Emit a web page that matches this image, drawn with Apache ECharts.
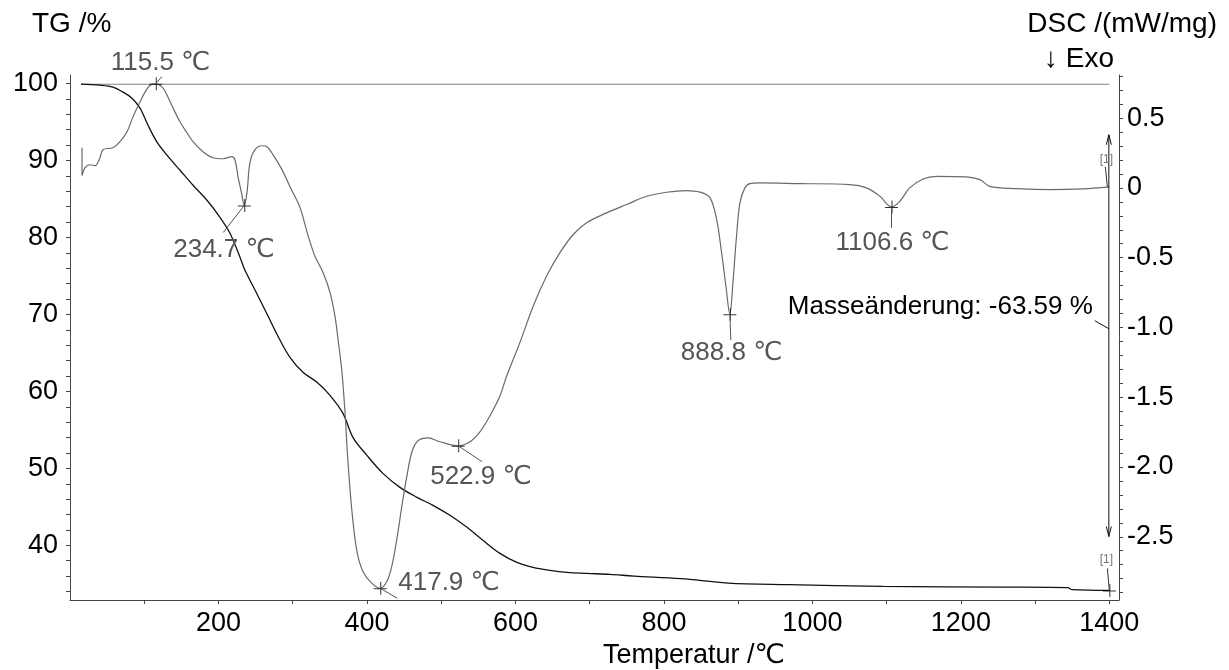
<!DOCTYPE html>
<html><head><meta charset="utf-8">
<script src="https://cdn.jsdelivr.net/npm/echarts@6/dist/echarts.min.js"></script>
<style>html,body{margin:0;padding:0;background:#fff}#c{width:1229px;height:670px}</style>
</head><body><div id="c"></div>
<script>
// ---- data ----
const tgT = [14.8, 40.4, 57.9, 71.4, 83.5, 94.3, 105.1, 117.2, 130.6, 148.1, 165.7, 184.5, 202.0, 215.5, 229.0, 235.7, 249.2, 266.7, 282.8, 296.3, 313.8, 332.7, 350.2, 367.7, 381.1, 400.0, 421.5, 444.4, 467.3, 488.9, 511.8, 534.7, 556.2, 579.1, 602.0, 623.6, 646.5, 669.4, 696.3, 727.3, 759.6, 822.9, 886.2, 967.0, 1095.0, 1259.0, 1344.0, 1350.0, 1400.0];
const tgV = [99.91, 99.78, 99.52, 98.87, 98.09, 96.79, 94.58, 92.37, 90.68, 88.73, 86.78, 84.83, 82.62, 80.54, 77.42, 75.73, 73.17, 69.79, 66.67, 64.43, 62.48, 61.18, 59.49, 57.15, 54.03, 51.69, 49.35, 47.53, 46.24, 45.20, 43.90, 42.34, 40.65, 38.96, 37.79, 37.14, 36.75, 36.49, 36.36, 36.23, 36.01, 35.67, 35.10, 34.89, 34.67, 34.58, 34.50, 34.24, 34.15];

const dscT = [16.2, 16.2, 20.2, 26.9, 33.7, 40.4, 44.4, 57.9, 67.3, 76.8, 84.8, 94.3, 103.7, 110.0, 115.5, 123.9, 130.6, 138.7, 148.1, 157.6, 165.7, 179.1, 192.6, 206.1, 218.2, 222.2, 226.3, 231.0, 234.7, 238.4, 242.4, 249.2, 258.6, 265.3, 273.4, 285.5, 296.3, 309.8, 320.0, 330.0, 340.7, 350.2, 356.9, 361.0, 366.3, 370.4, 374.4, 379.8, 386.5, 394.6, 406.7, 417.9, 426.9, 433.7, 440.4, 447.1, 453.9, 460.6, 468.7, 482.2, 498.3, 522.9, 538.7, 552.2, 565.7, 579.1, 588.1, 606.1, 624.0, 642.0, 660.0, 677.9, 695.9, 722.8, 749.8, 776.7, 803.6, 830.5, 848.5, 862.0, 871.0, 877.7, 883.5, 888.8, 893.3, 897.8, 902.4, 909.1, 915.8, 929.3, 983.0, 1050.5, 1073.0, 1091.0, 1106.6, 1117.8, 1131.0, 1149.0, 1167.0, 1207.6, 1225.6, 1239.0, 1275.0, 1320.0, 1364.7, 1400.0];
const dscV = [0.288, 0.088, 0.145, 0.166, 0.159, 0.216, 0.274, 0.288, 0.331, 0.402, 0.509, 0.616, 0.709, 0.742, 0.746, 0.724, 0.666, 0.574, 0.474, 0.395, 0.331, 0.259, 0.216, 0.209, 0.224, 0.202, 0.081, -0.034, -0.126, -0.034, 0.181, 0.274, 0.302, 0.295, 0.238, 0.131, 0.009, -0.140, -0.330, -0.490, -0.605, -0.748, -0.919, -1.083, -1.319, -1.605, -1.962, -2.319, -2.605, -2.748, -2.834, -2.869, -2.819, -2.705, -2.512, -2.276, -2.062, -1.891, -1.812, -1.791, -1.819, -1.848, -1.819, -1.748, -1.633, -1.491, -1.350, -1.107, -0.846, -0.631, -0.464, -0.334, -0.250, -0.179, -0.119, -0.060, -0.031, -0.019, -0.030, -0.070, -0.226, -0.464, -0.703, -0.905, -0.655, -0.346, -0.107, 0.000, 0.031, 0.036, 0.031, 0.024, 0.000, -0.060, -0.136, -0.096, 0.000, 0.064, 0.083, 0.079, 0.059, 0.011, -0.005, -0.012, -0.007, 0.007];

const peakT = [115.5, 234.7, 417.9, 522.9, 888.8, 1106.6];
const peakV = [0.746, -0.126, -2.869, -1.848, -0.905, -0.136];
const peakLabels = ['115.5 ℃', '234.7 ℃', '417.9 ℃', '522.9 ℃', '888.8 ℃', '1106.6 ℃'];

const xTickLabels = [200, 400, 600, 800, 1000, 1200, 1400];
const tgTickLabels = [40, 50, 60, 70, 80, 90, 100];
const dscTickLabels = [0.5, 0, -0.5, -1.0, -1.5, -2.0, -2.5];
const massChangeText = 'Masseänderung: -63.59 %';
const massArrowDSC = [0.381, -2.498];
const refLineTG = 99.9;

// ---- layout / style ----
const FONT = "'Liberation Sans', Arial, 'DejaVu Sans', sans-serif";
const AXC = '#444';
const xMinor = [], tgMinor = [], dscMinor = [];
for (let v = 100; v <= 1400; v += 100) xMinor.push(v);
for (let v = 34; v <= 100; v += 2) tgMinor.push(v);
for (let k = -29; k <= 8; k++) dscMinor.push(k / 10);

const chart = echarts.init(document.getElementById('c'), null, {renderer: 'canvas'});
const plus = 'path://M0,6.5H13V7.5H0Z M6.5,0H7.5V13H6.5Z';

const option = {
  animation: false,
  backgroundColor: '#fff',
  grid: {left: 70, right: 110, top: 75, bottom: 70, containLabel: false},
  xAxis: {
    type: 'value', min: 0, max: 1413,
    axisLine: {show: true, onZero: false, lineStyle: {color: AXC, width: 1}},
    axisTick: {show: true, length: 4, lineStyle: {color: AXC}, customValues: xMinor},
    axisLabel: {fontSize: 27, color: '#000', fontFamily: FONT, margin: 10, customValues: xTickLabels,
      formatter: v => String(v)},
    splitLine: {show: false}
  },
  yAxis: [{
    type: 'value', min: 32.9, max: 101.1, position: 'left',
    axisLine: {show: true, onZero: false, lineStyle: {color: AXC, width: 1}},
    axisTick: {show: true, length: 4, lineStyle: {color: AXC}, customValues: tgMinor},
    axisLabel: {fontSize: 27, color: '#000', fontFamily: FONT, margin: 12, customValues: tgTickLabels,
      formatter: v => String(v)},
    splitLine: {show: false}
  }, {
    type: 'value', min: -2.953, max: 0.809, position: 'right',
    axisLine: {show: true, onZero: false, lineStyle: {color: AXC, width: 1}},
    axisTick: {show: true, length: 4, lineStyle: {color: AXC}, customValues: dscMinor},
    axisLabel: {fontSize: 27, color: '#000', fontFamily: FONT, margin: 8, customValues: dscTickLabels,
      formatter: v => (Math.abs(v) < 1e-9 ? '0' : v.toFixed(1))},
    splitLine: {show: false}
  }],
  series: [
    {type: 'line', name: 'ref', yAxisIndex: 0, symbol: 'none', silent: true,
      data: [[tgT[0], refLineTG], [tgT[tgT.length - 1], refLineTG]],
      lineStyle: {color: '#808080', width: 1.2}},
    {type: 'line', name: 'TG', yAxisIndex: 0, symbol: 'none', smooth: 0.35,
      data: tgT.map((t, i) => [t, tgV[i]]), lineStyle: {color: '#111', width: 1.3}},
    {type: 'line', name: 'DSC', yAxisIndex: 1, symbol: 'none', smooth: 0.35,
      data: dscT.map((t, i) => [t, dscV[i]]), lineStyle: {color: '#6a6a6a', width: 1.2}},
    {type: 'scatter', yAxisIndex: 1, symbol: plus, symbolSize: 13, itemStyle: {color: '#000'},
      data: peakT.map((t, i) => [t, peakV[i]]), z: 5},
    {type: 'scatter', yAxisIndex: 0, symbol: plus, symbolSize: 13, itemStyle: {color: '#000'},
      data: [[tgT[tgT.length - 1], tgV[tgV.length - 1]]], z: 5}
  ]
};
chart.setOption(option);

// ---- annotations (pixel offsets relative to data points) ----
const labOff = [ // [leader dx, leader dy, text left dx, text center dy]
  [6, -7, -45, -21],
  [-21, 27, -71, 44],
  [17, 10, 18, -5],
  [24, 16, -28, 31],
  [1, 26, -49, 39],
  [0, 21, -56, 36]
];
const g = [];
const line = (x1, y1, x2, y2, c) => ({type: 'line', silent: true, z: 10,
  shape: {x1, y1, x2, y2}, style: {stroke: c || '#555', lineWidth: 1}});
const text = (x, y, s, o) => Object.assign({type: 'text', silent: true, z: 10, x, y,
  style: Object.assign({text: s, fill: '#000', font: '28px ' + FONT, textAlign: 'left', textVerticalAlign: 'middle'}, o || {})});

peakT.forEach((t, i) => {
  const p = chart.convertToPixel({xAxisIndex: 0, yAxisIndex: 1}, [t, peakV[i]]);
  const o = labOff[i];
  g.push(line(p[0], p[1], p[0] + o[0], p[1] + o[1]));
  g.push(text(p[0] + o[2], p[1] + o[3], peakLabels[i], {fill: '#555', font: '26px ' + FONT}));
});

// mass change arrow
const xa = 1399.3;
const pa = chart.convertToPixel({xAxisIndex: 0, yAxisIndex: 1}, [xa, massArrowDSC[0]]);
const pb = chart.convertToPixel({xAxisIndex: 0, yAxisIndex: 1}, [xa, massArrowDSC[1]]);
g.push(line(pa[0], pa[1], pb[0], pb[1], '#111'));
g.push({type: 'polyline', silent: true, z: 10, shape: {points: [[pa[0] - 2.5, pa[1] + 10], [pa[0], pa[1]], [pa[0] + 2.5, pa[1] + 10]]}, style: {stroke: '#111', lineWidth: 1, fill: null}});
g.push({type: 'polyline', silent: true, z: 10, shape: {points: [[pb[0] - 2.5, pb[1] - 10], [pb[0], pb[1]], [pb[0] + 2.5, pb[1] - 10]]}, style: {stroke: '#111', lineWidth: 1, fill: null}});
const pm = [pa[0], pa[1] + 194];
g.push(line(pm[0] - 14, pm[1] - 8, pm[0], pm[1], '#111'));
g.push(text(pm[0] - 16, pm[1] - 22, massChangeText, {textAlign: 'right', font: '26px ' + FONT}));

// [1] markers
const pDscEnd = chart.convertToPixel({xAxisIndex: 0, yAxisIndex: 1}, [dscT[dscT.length - 1], dscV[dscV.length - 1]]);
const pTgEnd = chart.convertToPixel({xAxisIndex: 0, yAxisIndex: 0}, [tgT[tgT.length - 1], tgV[tgV.length - 1]]);
g.push(text(pDscEnd[0] - 3, pDscEnd[1] - 27, '[1]', {textAlign: 'center', fill: '#777', font: '12px ' + FONT}));
g.push(line(pDscEnd[0] - 4, pDscEnd[1] - 20, pDscEnd[0] - 2, pDscEnd[1], '#333'));
g.push(text(pTgEnd[0] - 3, pTgEnd[1] - 31, '[1]', {textAlign: 'center', fill: '#777', font: '12px ' + FONT}));
g.push(line(pTgEnd[0] - 2, pTgEnd[1] - 22, pTgEnd[0], pTgEnd[1], '#333'));

// axis titles
g.push(text(32, 24, 'TG /%', {font: '28px ' + FONT}));
g.push(text(1217, 24, 'DSC /(mW/mg)', {textAlign: 'right', font: '28px ' + FONT}));
g.push(text(1114, 59, '↓ Exo', {textAlign: 'right', font: '28px ' + FONT}));
g.push(text(694, 656, 'Temperatur /℃', {textAlign: 'center', font: '27px ' + FONT}));

chart.setOption({graphic: {elements: g}});
</script></body></html>
